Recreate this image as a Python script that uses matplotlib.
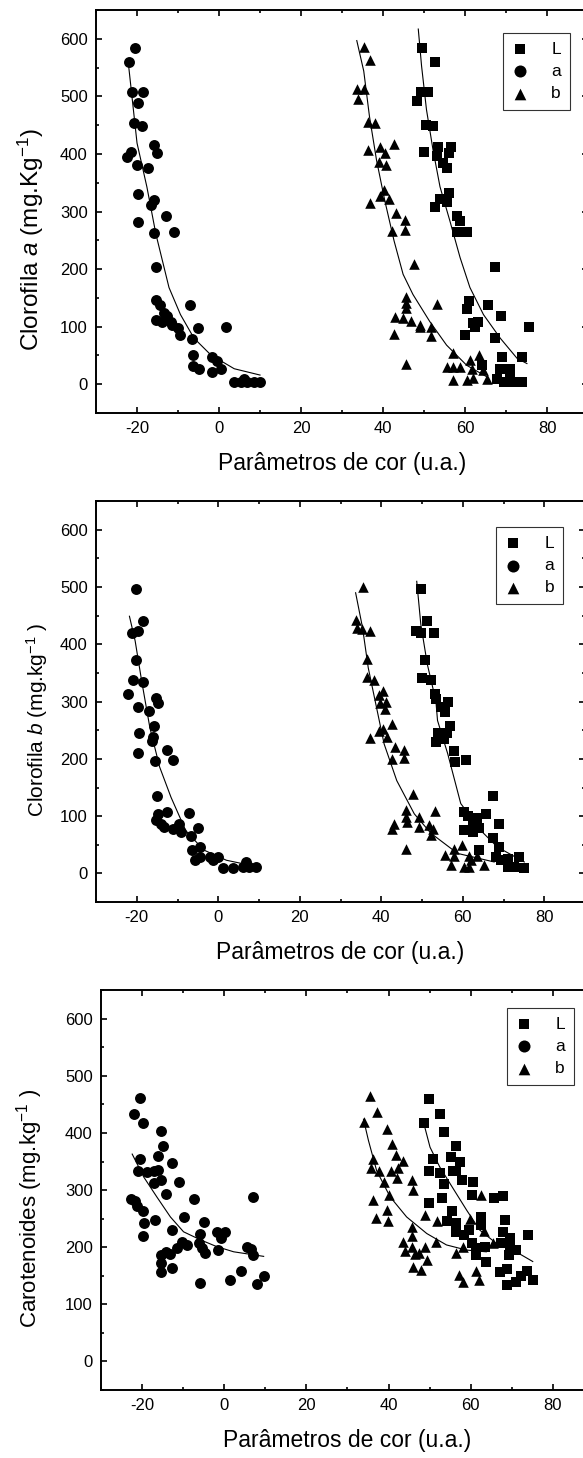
import matplotlib
matplotlib.use('Agg')
import matplotlib.pyplot as plt
from matplotlib.ticker import MultipleLocator

plt.rcParams['font.family'] = ['Liberation Sans', 'DejaVu Sans']
plt.rcParams['mathtext.fontset'] = 'custom'
plt.rcParams['mathtext.rm'] = 'Liberation Sans'
plt.rcParams['mathtext.it'] = 'Liberation Sans:italic'
plt.rcParams['axes.unicode_minus'] = False

# ---------------- Painel 1: Clorofila a ----------------
p1_a_x = [-20.4, -22.0, -21.2, -18.6, -19.8, -20.8, -18.8, -22.4, -21.5, -20.0, -17.3, -19.8, -19.8,
          -15.9, -15.1, -15.9, -16.7, -15.9, -12.9, -11.0, -15.4, -15.4, -15.4, -14.3, -13.5, -12.7,
          -13.9, -11.8, -11.4, -10.0, -9.4, -7.1, -5.1, -6.5, -6.3, -6.3, -4.9, -1.6, -1.6, -0.4,
          0.4, 1.6, 3.7, 5.3, 6.9, 8.6, 10.0, 6.1]
p1_a_y = [584, 560, 508, 508, 489, 453, 448, 395, 404, 381, 375, 331, 282,
          416, 401, 320, 311, 262, 292, 265, 204, 146, 112, 137, 124, 118,
          109, 109, 103, 98, 86, 137, 98, 79, 50, 32, 27, 48, 22, 41,
          27, 99, 4, 4, 4, 4, 4, 10]
p1_b_x = [35.3, 36.9, 33.6, 35.3, 33.9, 36.3, 38.0, 36.3, 39.2, 40.4, 42.6, 39.0, 40.8, 40.2, 39.2,
          41.4, 36.9, 43.1, 45.3, 42.2, 45.3, 47.6, 45.7, 45.7, 45.7, 53.1, 43.0, 44.9, 46.9, 49.0,
          49.1, 51.8, 42.6, 51.8, 45.7, 57.1, 55.5, 57.1, 58.8, 61.2, 63.5, 61.6, 64.5, 57.0, 60.4,
          61.9, 65.3]
p1_b_y = [586, 563, 513, 513, 495, 455, 454, 407, 413, 401, 418, 386, 380, 337, 327,
          321, 315, 298, 286, 266, 268, 209, 151, 141, 133, 140, 116, 115, 110, 103,
          99, 100, 88, 83, 36, 54, 30, 30, 30, 42, 50, 27, 25, 8, 8,
          11, 10]
p1_L_x = [49.6, 52.8, 49.2, 51.0, 48.2, 50.6, 52.2, 50.0, 53.5, 56.7, 53.1, 56.2, 54.7, 55.5, 56.2,
          54.0, 55.5, 52.8, 58.0, 58.8, 58.0, 60.6, 67.2, 61.0, 60.4, 65.6, 68.8, 62.0, 63.2, 62.4,
          75.5, 60.0, 67.2, 73.9, 69.0, 68.6, 71.0, 64.1, 67.8, 69.4, 71.0, 72.7, 73.9, 71.0]
p1_L_y = [584, 560, 508, 508, 492, 451, 448, 404, 412, 412, 397, 401, 384, 375, 332,
          322, 317, 308, 293, 283, 264, 264, 204, 144, 130, 137, 119, 107, 109, 99,
          99, 85, 80, 48, 48, 27, 27, 33, 10, 4, 4, 4, 4, 13]
# curvas ajustadas
p1_fit_a_x = [-22.0, -20.0, -17.6, -15.4, -12.2, -9.4, -6.1, -2.0, 3.7, 10.0]
p1_fit_a_y = [550, 419, 343, 261, 168, 121, 80, 51, 27, 16]
p1_fit_b_x = [33.6, 35.3, 36.7, 38.4, 40.4, 42.7, 44.9, 47.3, 51.4, 55.5, 60.4, 65.3]
p1_fit_b_y = [597, 544, 465, 390, 320, 249, 191, 156, 109, 68, 33, 13]
p1_fit_L_x = [48.6, 49.4, 50.6, 52.2, 53.9, 56.3, 58.8, 61.2, 64.5, 68.6, 72.7, 75.1]
p1_fit_L_y = [617, 553, 477, 407, 343, 284, 220, 168, 121, 80, 45, 36]

# ---------------- Painel 2: Clorofila b ----------------
p2_a_x = [-20.2, -21.2, -19.8, -18.4, -20.2, -21.0, -18.4, -22.2, -19.6, -19.4, -19.6, -17.0, -15.4,
          -14.9, -15.8, -16.0, -16.2, -15.6, -12.6, -11.0, -15.1, -15.4, -14.8, -14.0, -12.6, -13.2,
          -11.2, -9.6, -9.2, -7.1, -6.8, -6.4, -5.0, -5.8, -4.4, -4.4, -2.0, -1.2, 0.0, 1.2,
          3.6, 6.0, 6.8, 7.6, 9.2]
p2_a_y = [497, 420, 423, 441, 373, 338, 335, 314, 290, 246, 210, 284, 306,
          297, 258, 238, 232, 197, 216, 198, 136, 93, 104, 87, 107, 81,
          78, 87, 72, 106, 65, 41, 80, 23, 46, 29, 29, 23, 29, 10,
          9, 12, 20, 12, 12]
p2_b_x = [35.5, 33.7, 34.1, 35.2, 37.3, 36.6, 36.4, 38.2, 39.5, 40.5, 39.7, 41.1, 40.9, 42.7, 39.5,
          40.5, 41.5, 37.2, 43.3, 45.6, 45.6, 42.6, 47.7, 46.0, 46.0, 46.4, 53.1, 43.2, 42.7, 49.3,
          49.3, 51.8, 52.6, 52.2, 46.0, 55.7, 57.9, 57.9, 57.1, 59.8, 61.6, 62.0, 60.2, 63.6, 65.3,
          61.6]
p2_b_y = [500, 443, 429, 426, 423, 375, 343, 338, 311, 318, 297, 299, 287, 261, 249,
          252, 239, 237, 220, 216, 201, 200, 139, 110, 99, 90, 109, 87, 77, 99,
          81, 84, 78, 67, 43, 32, 43, 30, 14, 50, 30, 23, 12, 30, 14,
          12]
p2_L_x = [49.8, 51.2, 48.5, 49.7, 53.0, 50.8, 50.1, 52.3, 53.2, 53.4, 54.6, 56.3, 55.7, 56.9, 56.1,
          54.0, 55.4, 53.4, 57.9, 58.1, 60.8, 67.3, 60.2, 61.3, 63.5, 65.7, 62.4, 64.1, 60.2, 62.5,
          68.9, 67.3, 68.9, 64.1, 68.1, 69.3, 71.0, 71.0, 73.8, 75.1, 72.6]
p2_L_y = [497, 441, 423, 420, 420, 373, 342, 337, 313, 304, 290, 299, 281, 258, 245,
          246, 235, 229, 214, 195, 198, 136, 107, 101, 96, 104, 87, 80, 75, 72,
          87, 62, 46, 41, 29, 23, 26, 12, 29, 9, 12]
p2_fit_a_x = [-21.8, -20.4, -18.8, -16.8, -14.4, -11.6, -8.0, -3.6, 2.0, 6.0]
p2_fit_a_y = [449, 406, 336, 255, 186, 133, 75, 41, 23, 17]
p2_fit_b_x = [33.7, 35.4, 36.8, 38.5, 40.7, 43.8, 48.1, 52.2, 58.7, 67.7]
p2_fit_b_y = [490, 429, 359, 301, 226, 162, 104, 70, 35, 20]
p2_fit_L_x = [48.7, 49.7, 51.3, 53.4, 53.8, 56.3, 59.5, 64.4, 68.5, 75.1]
p2_fit_L_y = [510, 435, 365, 301, 267, 209, 122, 75, 46, 20]

# ---------------- Painel 3: Carotenoides ----------------
p3_a_x = [-20.6, -21.9, -19.8, -20.6, -21.0, -22.7, -21.8, -21.2, -19.8, -19.6, -19.8, -18.8, -17.0,
          -17.2, -16.0, -16.0, -15.5, -15.5, -14.9, -14.2, -12.7, -11.1, -7.3, -16.8, -9.9, -4.9,
          -6.0, -6.2, -10.3, -9.1, -12.7, -15.5, -15.5, -15.5, -14.1, -13.1, -11.5, -12.7, -5.4,
          -4.6, -5.8, -1.8, -0.8, 0.2, -1.4, 1.5, 4.0, 5.5, 6.5, 6.9, 7.1, 8.1, 9.8]
p3_a_y = [461, 433, 417, 354, 333, 285, 281, 272, 263, 242, 219, 332, 333,
          312, 359, 336, 317, 404, 377, 294, 348, 314, 285, 247, 253, 245,
          223, 207, 210, 204, 231, 187, 173, 156, 192, 188, 198, 163, 198,
          190, 137, 226, 216, 226, 195, 143, 158, 201, 197, 288, 187, 136, 149]
p3_b_x = [35.5, 37.1, 34.1, 39.6, 40.8, 36.3, 41.8, 43.4, 42.4, 35.8, 37.7, 40.6, 42.1, 39.0, 45.6,
          45.9, 40.2, 36.3, 39.6, 36.9, 39.8, 62.4, 48.9, 51.9, 45.8, 45.6, 43.4, 45.6, 48.8, 43.9,
          46.4, 47.3, 51.5, 49.3, 46.0, 47.8, 56.3, 59.9, 63.2, 65.4, 58.2, 57.1, 58.2, 61.4, 62.0]
p3_b_y = [465, 436, 420, 407, 381, 355, 361, 351, 339, 339, 334, 334, 322, 314, 317,
          300, 291, 282, 265, 252, 246, 291, 257, 246, 235, 220, 209, 201, 201, 194,
          188, 190, 209, 177, 166, 161, 190, 249, 229, 207, 201, 152, 140, 159, 143]
p3_L_x = [49.8, 52.5, 48.7, 53.5, 56.4, 50.9, 55.3, 57.3, 49.8, 55.7, 56.5, 52.5, 58.0, 60.6, 53.5,
          60.2, 65.7, 67.9, 53.1, 49.8, 55.4, 54.3, 56.4, 62.4, 62.4, 68.4, 59.6, 56.4, 58.4, 67.9,
          69.5, 74.0, 60.2, 61.4, 63.4, 67.4, 69.5, 71.1, 69.2, 61.4, 63.6, 67.1, 68.9, 68.9, 71.1,
          73.7, 75.1, 72.3]
p3_L_y = [460, 433, 417, 401, 377, 354, 358, 349, 333, 333, 334, 330, 317, 314, 311,
          291, 286, 289, 287, 278, 263, 246, 242, 253, 239, 248, 231, 226, 221, 227,
          216, 221, 207, 198, 201, 207, 201, 195, 187, 187, 175, 156, 162, 134, 140,
          158, 143, 149]
p3_fit_a_x = [-22.4, -19.6, -16.4, -13.1, -9.9, -5.8, -1.8, 2.3, 9.6]
p3_fit_a_y = [363, 323, 288, 253, 227, 213, 201, 192, 184]
p3_fit_b_x = [33.9, 35.1, 37.1, 40.4, 44.4, 49.3, 54.1, 59.0, 63.8]
p3_fit_b_y = [424, 387, 334, 288, 253, 224, 204, 195, 192]
p3_fit_L_x = [48.5, 50.1, 52.5, 55.7, 59.0, 62.2, 66.2, 70.3, 75.1]
p3_fit_L_y = [419, 375, 340, 303, 265, 230, 207, 195, 175]

paineis = [
    dict(pos=[0.1647, 0.7167, 0.8439, 0.2764],
         ylabel='Clorofila $\\mathit{a}$ (mg.Kg$^{-1}$)', ylab=(-0.102, 0.43), ylsize=17.5,
         L=(p1_L_x, p1_L_y), a=(p1_a_x, p1_a_y), b=(p1_b_x, p1_b_y),
         fits=[(p1_fit_a_x, p1_fit_a_y), (p1_fit_b_x, p1_fit_b_y), (p1_fit_L_x, p1_fit_L_y)],
         leg=(0.963, 0.943)),
    dict(pos=[0.1647, 0.3813, 0.8388, 0.2750],
         ylabel='Clorofila $\\mathit{b}$ (mg.kg$^{-1}$ )', ylab=(-0.094, 0.454), ylsize=15,
         L=(p2_L_x, p2_L_y), a=(p2_a_x, p2_a_y), b=(p2_b_x, p2_b_y),
         fits=[(p2_fit_a_x, p2_fit_a_y), (p2_fit_b_x, p2_fit_b_y), (p2_fit_L_x, p2_fit_L_y)],
         leg=(0.955, 0.935)),
    dict(pos=[0.1732, 0.0466, 0.8456, 0.2743],
         ylabel='Carotenoides (mg.kg$^{-1}$ )', ylab=(-0.114, 0.455), ylsize=16,
         L=(p3_L_x, p3_L_y), a=(p3_a_x, p3_a_y), b=(p3_b_x, p3_b_y),
         fits=[(p3_fit_a_x, p3_fit_a_y), (p3_fit_b_x, p3_fit_b_y), (p3_fit_L_x, p3_fit_L_y)],
         leg=(0.959, 0.955)),
]

fig = plt.figure(figsize=(5.83, 14.58), dpi=100)

for p in paineis:
    ax = fig.add_axes(p['pos'])
    ax.scatter(*p['L'], marker='s', s=42, color='black', linewidths=0, label='L', zorder=3)
    ax.scatter(*p['a'], marker='o', s=62, color='black', linewidths=0, label='a', zorder=3)
    ax.scatter(*p['b'], marker='^', s=58, color='black', linewidths=0, label='b', zorder=3)
    for fx, fy in p['fits']:
        ax.plot(fx, fy, color='black', lw=0.8, zorder=2)

    ax.set_xlim(-30, 90)
    ax.set_ylim(-50, 650)
    ax.xaxis.set_major_locator(MultipleLocator(20))
    ax.xaxis.set_minor_locator(MultipleLocator(10))
    ax.yaxis.set_major_locator(MultipleLocator(100))
    ax.yaxis.set_minor_locator(MultipleLocator(50))
    ax.set_xticks([-20, 0, 20, 40, 60, 80])
    ax.tick_params(which='both', direction='in', top=True, right=True, width=1.2, labelsize=12)
    ax.tick_params(which='major', length=4.5, pad=6)
    ax.tick_params(which='minor', length=2.5)
    for s in ax.spines.values():
        s.set_linewidth(1.4)

    ax.set_xlabel('Parâmetros de cor (u.a.)', fontsize=16.5, labelpad=11)
    ax.set_ylabel(p['ylabel'], fontsize=p['ylsize'])
    ax.yaxis.set_label_coords(*p['ylab'])

    leg = ax.legend(loc='upper right', bbox_to_anchor=p['leg'], fontsize=12.5,
                    frameon=True, fancybox=False, edgecolor='black', handlelength=1.0,
                    handletextpad=1.3, labelspacing=0.4, borderpad=0.5, borderaxespad=0,
                    markerscale=1.1, scatterpoints=1)
    leg.get_frame().set_linewidth(0.8)

fig.savefig('out.png', dpi=100)
